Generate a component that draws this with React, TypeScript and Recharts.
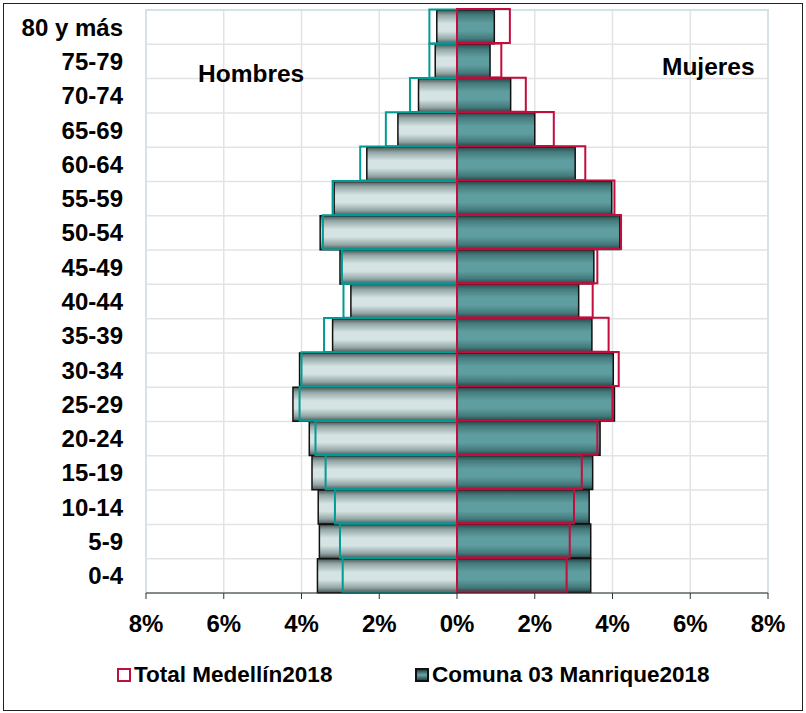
import { BarChart, Bar, XAxis, YAxis, CartesianGrid, ReferenceArea } from "recharts";

// age groups, top to bottom as drawn
const AGES = ["80 y más", "75-79", "70-74", "65-69", "60-64", "55-59", "50-54", "45-49", "40-44", "35-39", "30-34", "25-29", "20-24", "15-19", "10-14", "5-9", "0-4"];

// % of population
const COMUNA_MEN = [0.52, 0.56, 0.99, 1.52, 2.32, 3.16, 3.52, 3.01, 2.73, 3.2, 4.05, 4.22, 3.8, 3.73, 3.57, 3.54, 3.59];
const COMUNA_WOMEN = [0.96, 0.85, 1.38, 2.0, 3.04, 3.98, 4.19, 3.52, 3.13, 3.47, 4.02, 4.05, 3.68, 3.49, 3.4, 3.44, 3.44];
const MED_MEN = [0.71, 0.71, 1.21, 1.83, 2.49, 3.2, 3.45, 2.96, 2.92, 3.42, 4.0, 4.05, 3.64, 3.38, 3.14, 3.01, 2.94];
const MED_WOMEN = [1.36, 1.14, 1.77, 2.49, 3.3, 4.05, 4.22, 3.61, 3.49, 3.9, 4.16, 4.0, 3.61, 3.21, 3.01, 2.9, 2.82];

const X_TICKS = [-8, -6, -4, -2, 0, 2, 4, 6, 8];

const FONT = "'Liberation Sans', Arial, sans-serif";

const data = AGES.map((age, i) => ({
  age,
  comunaMen: -COMUNA_MEN[i],
  comunaWomen: COMUNA_WOMEN[i],
  medMen: -MED_MEN[i],
  medWomen: MED_WOMEN[i],
}));

const labelStyle: React.CSSProperties = {
  position: "absolute",
  fontFamily: FONT,
  fontWeight: "bold",
  fontSize: 24.5,
  color: "#000",
  whiteSpace: "nowrap",
  lineHeight: "24px",
};

const legendText: React.CSSProperties = { ...labelStyle, fontSize: 22.5, lineHeight: "22px" };

export default function App() {
  return (
    <div style={{ position: "absolute", left: 0, top: 0, width: 806, height: 713, background: "#fff" }}>
      <div style={{ position: "absolute", left: 3, top: 3, width: 798, height: 706, border: "1.5px solid #222" }} />
      <BarChart
        width={806}
        height={713}
        data={data}
        layout="vertical"
        margin={{ top: 10, right: 38, left: 0, bottom: 0 }}
        barCategoryGap={0}
        barGap="-100%"
        style={{ position: "absolute", left: 0, top: 0 }}
      >
        <defs>
          <linearGradient id="menFill" x1="0" y1="0" x2="0" y2="1">
            <stop offset="0%" stopColor="#4a5353" />
            <stop offset="15%" stopColor="#93a6a6" />
            <stop offset="40%" stopColor="#d5e3e3" />
            <stop offset="62%" stopColor="#d5e3e3" />
            <stop offset="85%" stopColor="#93a6a6" />
            <stop offset="100%" stopColor="#4a5353" />
          </linearGradient>
          <linearGradient id="womenFill" x1="0" y1="0" x2="0" y2="1">
            <stop offset="0%" stopColor="#274546" />
            <stop offset="15%" stopColor="#447a7c" />
            <stop offset="40%" stopColor="#5f9ea0" />
            <stop offset="62%" stopColor="#5f9ea0" />
            <stop offset="85%" stopColor="#447a7c" />
            <stop offset="100%" stopColor="#274546" />
          </linearGradient>
        </defs>
        <CartesianGrid
          stroke="#e3e3e3"
          strokeWidth={1.5}
          horizontalCoordinatesGenerator={({ offset }: any) =>
            Array.from({ length: AGES.length + 1 }, (_, i) => offset.top + (i * offset.height) / AGES.length)
          }
        />
        <ReferenceArea x1={-8} x2={8} fill="none" stroke="#d4e3e6" strokeWidth={2} ifOverflow="visible" />
        <XAxis
          type="number"
          domain={[-8, 8]}
          ticks={X_TICKS}
          tickFormatter={(v: number) => `${Math.abs(v)}%`}
          height={120}
          stroke="#333"
          tickSize={6}
          tickMargin={16}
          tick={{ fontSize: 24, fontWeight: "bold", fill: "#000", fontFamily: FONT }}
          allowDataOverflow
        />
        <YAxis
          type="category"
          dataKey="age"
          width={146}
          axisLine={false}
          tickLine={false}
          tickSize={0}
          tickMargin={23}
          interval={0}
          tick={{ fontSize: 24, fontWeight: "bold", fill: "#000", fontFamily: FONT }}
        />
        <Bar dataKey="comunaMen" fill="url(#menFill)" stroke="#111" strokeWidth={1.5} isAnimationActive={false} />
        <Bar dataKey="comunaWomen" fill="url(#womenFill)" stroke="#111" strokeWidth={1.5} isAnimationActive={false} />
        <Bar dataKey="medMen" fill="none" stroke="#009b94" strokeWidth={2} isAnimationActive={false} />
        <Bar dataKey="medWomen" fill="none" stroke="#c20d3d" strokeWidth={2} isAnimationActive={false} />
      </BarChart>

      <div style={{ ...labelStyle, left: 198, top: 62 }}>Hombres</div>
      <div style={{ ...labelStyle, left: 662, top: 55 }}>Mujeres</div>

      <div style={{ position: "absolute", left: 117, top: 668, width: 10, height: 10, border: "2px solid #c20d3d", background: "#fff" }} />
      <div style={{ ...legendText, left: 134, top: 664 }}>Total Medellín2018</div>
      <div
        style={{
          position: "absolute",
          left: 415,
          top: 668,
          width: 10,
          height: 10,
          border: "2px solid #111",
          background: "linear-gradient(#274546, #5f9ea0 45%, #5f9ea0 55%, #274546)",
        }}
      />
      <div style={{ ...legendText, left: 432, top: 664 }}>Comuna 03 Manrique2018</div>
    </div>
  );
}
